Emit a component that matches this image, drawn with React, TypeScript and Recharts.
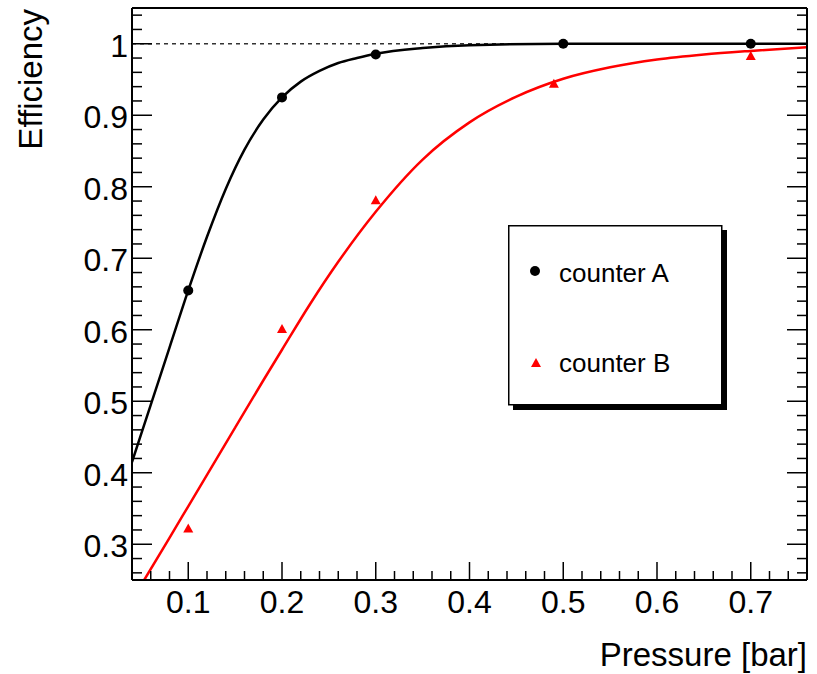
import React from 'react';
import { ComposedChart, Line, Scatter, XAxis, YAxis, ReferenceLine, Legend, Label } from 'recharts';

const FONT = '"Liberation Sans", Arial, Helvetica, sans-serif';

// measured points
const pressureA = [0.1, 0.2, 0.3, 0.5, 0.7];
const efficiencyA = [0.655, 0.925, 0.985, 1.0, 1.0];
const pressureB = [0.1, 0.2, 0.3, 0.49, 0.7];
const efficiencyB = [0.322, 0.601, 0.781, 0.944, 0.983];

// fit curves, sampled off the plot
const fitPressureA = [0.04, 0.06, 0.08, 0.1, 0.12, 0.14, 0.16, 0.18, 0.2, 0.22, 0.24, 0.26, 0.28, 0.3, 0.35, 0.4, 0.5, 0.6, 0.76];
const fitEfficiencyA = [0.415, 0.495, 0.575, 0.655, 0.73, 0.797, 0.852, 0.894, 0.925, 0.947, 0.962, 0.973, 0.98, 0.986, 0.994, 0.998, 1.0, 1.0, 1.0];
const fitPressureB = [0.053, 0.08, 0.1, 0.12, 0.15, 0.18, 0.2, 0.23, 0.26, 0.3, 0.35, 0.4, 0.45, 0.5, 0.55, 0.6, 0.65, 0.7, 0.76];
const fitEfficiencyB = [0.25, 0.309, 0.353, 0.397, 0.463, 0.529, 0.572, 0.636, 0.695, 0.765, 0.838, 0.89, 0.926, 0.951, 0.967, 0.978, 0.985, 0.99, 0.995];

const xMajorTicks = [0.1, 0.2, 0.3, 0.4, 0.5, 0.6, 0.7];
const xTickLabels = ['0.1', '0.2', '0.3', '0.4', '0.5', '0.6', '0.7'];
const yMajorTicks = [0.3, 0.4, 0.5, 0.6, 0.7, 0.8, 0.9, 1.0];
const yTickLabels = ['0.3', '0.4', '0.5', '0.6', '0.7', '0.8', '0.9', '1'];

// minor ticks every 0.02
const xTicks = Array.from({ length: 37 }, (_, i) => +(0.04 + i * 0.02).toFixed(2));
const yTicks = Array.from({ length: 40 }, (_, i) => +(0.26 + i * 0.02).toFixed(2));

const toPoints = (xs: number[], ys: number[]) => xs.map((x, i) => ({ x, y: ys[i] }));
const pointsA = toPoints(pressureA, efficiencyA);
const pointsB = toPoints(pressureB, efficiencyB);
const fitA = toPoints(fitPressureA, fitEfficiencyA);
const fitB = toPoints(fitPressureB, fitEfficiencyB);

const majorIndex = (v: number, majors: number[]) => majors.findIndex((m) => Math.abs(m - v) < 1e-6);

const makeTick = (side: 'bottom' | 'top' | 'left' | 'right') => (props: any) => {
  const { x, y, payload } = props;
  const v = payload.value;
  const horizontal = side === 'bottom' || side === 'top';
  const idx = majorIndex(v, horizontal ? xMajorTicks : yMajorTicks);
  const major = idx >= 0;
  const len = horizontal ? (major ? 18 : 9) : major ? 20 : 10;
  let line;
  if (side === 'bottom') line = <line x1={x} y1={y} x2={x} y2={y - len} />;
  else if (side === 'top') line = <line x1={x} y1={y} x2={x} y2={y + len} />;
  else if (side === 'left') line = <line x1={x} y1={y} x2={x + len} y2={y} />;
  else line = <line x1={x} y1={y} x2={x - len} y2={y} />;
  return (
    <g stroke="#000" strokeWidth={1.5}>
      {line}
      {major && side === 'bottom' && (
        <text x={x} y={y + 33} textAnchor="middle" stroke="none" fill="#000" fontSize={32} fontFamily={FONT}>
          {xTickLabels[idx]}
        </text>
      )}
      {major && side === 'left' && (
        <text x={x - 4} y={y + 13} textAnchor="end" stroke="none" fill="#000" fontSize={32} fontFamily={FONT}>
          {yTickLabels[idx]}
        </text>
      )}
    </g>
  );
};

const LegendBox = () => (
  <svg width={222} height={188} style={{ display: 'block' }}>
    <rect x={5} y={5} width={214} height={180} fill="#000" />
    <rect x={0.75} y={0.75} width={213} height={179} fill="#fff" stroke="#000" strokeWidth={1.5} />
    <circle cx={27} cy={46} r={5} fill="#000" />
    <text x={51} y={57} fontSize={26} fontFamily={FONT} fill="#000">counter A</text>
    <polygon points="28,133 33,142 23,142" fill="#ff0000" />
    <text x={51} y={147} fontSize={26} fontFamily={FONT} fill="#000">counter B</text>
  </svg>
);

const frame = { stroke: '#000', strokeWidth: 2 };

export default function App() {
  return (
    <div style={{ position: 'absolute', left: 0, top: 0, width: 817, height: 674, background: '#fff' }}>
      <ComposedChart width={817} height={674} margin={{ top: 7, right: 9, bottom: 0, left: 0 }}>
        <XAxis
          xAxisId="bottom"
          dataKey="x"
          type="number"
          domain={[0.04, 0.76]}
          allowDataOverflow
          ticks={xTicks}
          interval={0}
          height={94}
          tickSize={0}
          tickMargin={0}
          axisLine={frame}
          tickLine={false}
          tick={makeTick('bottom')}
        >
          <Label
            content={(p: any) => (
              <text
                x={p.viewBox.x + p.viewBox.width}
                y={p.viewBox.y + 86}
                textAnchor="end"
                fontSize={33}
                fontFamily={FONT}
                fill="#000"
              >
                Pressure [bar]
              </text>
            )}
          />
        </XAxis>
        <XAxis
          xAxisId="top"
          orientation="top"
          type="number"
          domain={[0.04, 0.76]}
          allowDataOverflow
          ticks={xTicks}
          interval={0}
          height={1}
          tickSize={0}
          tickMargin={0}
          axisLine={frame}
          tickLine={false}
          tick={makeTick('top')}
        />
        <YAxis
          yAxisId="left"
          type="number"
          domain={[0.25, 1.05]}
          allowDataOverflow
          ticks={yTicks}
          interval={0}
          width={132}
          tickSize={0}
          tickMargin={0}
          axisLine={frame}
          tickLine={false}
          tick={makeTick('left')}
        >
          <Label
            content={(p: any) => {
              const x = p.viewBox.x + 42;
              const y = p.viewBox.y + 1;
              return (
                <text
                  x={x}
                  y={y}
                  transform={`rotate(-90 ${x} ${y})`}
                  textAnchor="end"
                  fontSize={33}
                  fontFamily={FONT}
                  fill="#000"
                >
                  Efficiency
                </text>
              );
            }}
          />
        </YAxis>
        <YAxis
          yAxisId="right"
          orientation="right"
          type="number"
          domain={[0.25, 1.05]}
          allowDataOverflow
          ticks={yTicks}
          interval={0}
          width={1}
          tickSize={0}
          tickMargin={0}
          axisLine={frame}
          tickLine={false}
          tick={makeTick('right')}
        />
        <ReferenceLine
          xAxisId="bottom"
          yAxisId="left"
          y={1}
          stroke="#333"
          strokeWidth={1.5}
          strokeDasharray="4 4"
        />
        <Line
          xAxisId="bottom"
          yAxisId="left"
          data={fitA}
          dataKey="y"
          type="monotone"
          stroke="#000"
          strokeWidth={2.5}
          dot={false}
          activeDot={false}
          isAnimationActive={false}
        />
        <Line
          xAxisId="bottom"
          yAxisId="left"
          data={fitB}
          dataKey="y"
          type="monotone"
          stroke="#ff0000"
          strokeWidth={2.5}
          dot={false}
          activeDot={false}
          isAnimationActive={false}
        />
        <Scatter
          xAxisId="bottom"
          yAxisId="left"
          name="counter A"
          data={pointsA}
          dataKey="y"
          isAnimationActive={false}
          shape={(p: any) => <circle cx={p.cx} cy={p.cy} r={5} fill="#000" />}
        />
        <Scatter
          xAxisId="bottom"
          yAxisId="left"
          name="counter B"
          data={pointsB}
          dataKey="y"
          isAnimationActive={false}
          shape={(p: any) => (
            <polygon points={`${p.cx},${p.cy - 5} ${p.cx + 5},${p.cy + 4} ${p.cx - 5},${p.cy + 4}`} fill="#ff0000" />
          )}
        />
        <Legend
          layout="horizontal"
          verticalAlign="middle"
          align="center"
          content={LegendBox}
          wrapperStyle={{ left: 508, top: 225, width: 222, height: 188 }}
        />
      </ComposedChart>
    </div>
  );
}
